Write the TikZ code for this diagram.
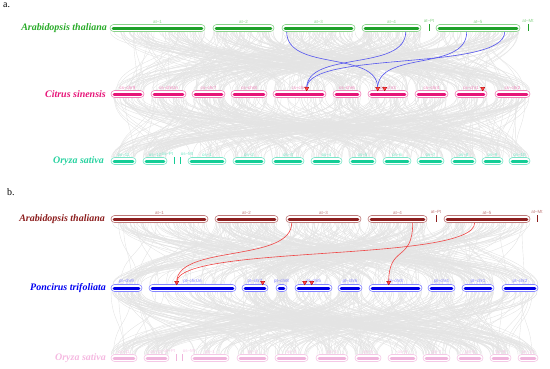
\documentclass[tikz,border=0pt]{standalone}
\usepackage{fontspec}
\setmainfont{Liberation Serif}
\newfontfamily\chrfont{Liberation Sans}
\usetikzlibrary{shapes.geometric}

\definecolor{linkgray}{RGB}{228,228,228}
\definecolor{linkblue}{RGB}{85,85,240}
\definecolor{linkred}{RGB}{240,70,70}
\definecolor{hitred}{RGB}{255,70,70}
\definecolor{hitdark}{RGB}{170,0,0}
\definecolor{aAtline}{RGB}{135,210,135}
\definecolor{aAtbar}{RGB}{30,160,40}
\definecolor{aAttext}{RGB}{40,170,40}
\definecolor{aCsline}{RGB}{240,130,185}
\definecolor{aCsbar}{RGB}{230,20,120}
\definecolor{aCstext}{RGB}{230,20,120}
\definecolor{aOsline}{RGB}{120,230,200}
\definecolor{aOsbar}{RGB}{20,205,150}
\definecolor{aOstext}{RGB}{40,210,160}
\definecolor{bAtline}{RGB}{190,120,120}
\definecolor{bAtbar}{RGB}{140,30,30}
\definecolor{bAttext}{RGB}{140,30,30}
\definecolor{bPtline}{RGB}{130,130,255}
\definecolor{bPtbar}{RGB}{0,0,230}
\definecolor{bPttext}{RGB}{0,0,240}
\definecolor{bOsline}{RGB}{245,200,230}
\definecolor{bOsbar}{RGB}{240,180,220}
\definecolor{bOstext}{RGB}{245,185,225}

% chromosome: name, x start, x end, y, label, colour prefix
\newcommand{\chrom}[6]{%
  \pgfmathsetmacro\chrw{#3-#2}%
  \node[chrbox, draw=#6line, minimum width=\chrw bp] (#1) at ({(#2+#3)/2},#4) {};
  \draw[chrbar, draw=#6bar] ([xshift=3.5bp]#1.west) -- ([xshift=-3.5bp]#1.east);
  \node[chrlbl, text=#6line] at (#1.north) {#5};
}
% organelle tick: name, x, y, label, colour prefix, label anchor
\newcommand{\chromtick}[6]{%
  \node[inner sep=0, minimum width=1bp, minimum height=6bp] (#1) at (#2,{#3-0.5}) {};
  \draw[draw=#5bar, line width=0.9bp] (#1.north) -- (#1.south);
  \node[chrlbl, text=#5line, anchor=#6] at ([yshift=0.5bp]#1.north) {#4};
}
% background links: count, top starts, top lengths, top max, top y, bottom starts, bottom lengths, bottom max, bottom y
\newcommand{\bglinks}[9]{%
  \foreach \k in {1,...,#1} {
    \pgfmathrandominteger{\ia}{0}{#4}
    \pgfmathrandominteger{\ib}{0}{#8}
    \pgfmathsetmacro\xa{#2[\ia]+rnd*#3[\ia]}
    \pgfmathsetmacro\xb{#6[\ib]+rnd*#7[\ib]}
    \draw[bglink] (\xa,#5) .. controls (\xa,{(#5+#9)/2}) and (\xb,{(#5+#9)/2}) .. (\xb,#9);
  }
}

\def\aAtS{{110,213,282,362,436}}      \def\aAtL{{95,61,73,59,84}}
\def\aCsS{{111,151,192,231,273,333,368,415,455,495}} \def\aCsL{{33,35,33,36,53,28,40,33,32,35}}
\def\aOsS{{111,143,188,233,272,311,349,383,417,451,482,509}} \def\aOsL{{25,24,38,32,32,31,27,28,27,25,21,21}}
\def\bAtS{{111,215,286,368,444}}      \def\bAtL{{97,63,75,59,86}}
\def\bPtS{{111,149,242,276,295,338,369,428,462,502}} \def\bPtL{{31,87,26,11,37,24,53,27,32,36}}
\def\bOsS{{111,144,191,237,275,316,355,388,423,457,490,518}} \def\bOsL{{26,25,38,31,33,32,26,29,27,26,21,20}}

\begin{document}
\begin{tikzpicture}[
  x=1bp, y=-1bp,
  chrbox/.style={rectangle, rounded corners=3.5bp, fill=white, line width=0.6bp,
                 minimum height=7bp, inner sep=0},
  chrbar/.style={line width=3bp, line cap=round},
  chrlbl/.style={anchor=south, inner sep=0.6bp, font=\chrfont\fontsize{4.5}{5}\selectfont},
  species/.style={anchor=east, inner sep=0, font=\bfseries\itshape\fontsize{10}{12}\selectfont},
  panel/.style={anchor=north west, inner sep=0, font=\fontsize{10}{12}\selectfont},
  bglink/.style={draw=linkgray, line width=0.4bp},
  bluelink/.style={draw=linkblue, line width=0.6bp},
  redlink/.style={draw=linkred, line width=0.6bp},
  hitmark/.style={regular polygon, regular polygon sides=3, shape border rotate=180,
                  minimum size=5bp, inner sep=0, fill=hitred, draw=hitdark,
                  line width=0.3bp, anchor=corner 1}
]
\useasboundingbox (0,0) rectangle (550,368);
\pgfmathsetseed{42}

\bglinks{380}{\aAtS}{\aAtL}{4}{31.5}{\aCsS}{\aCsL}{9}{90.5}
\bglinks{380}{\aCsS}{\aCsL}{9}{97.5}{\aOsS}{\aOsL}{11}{157.5}
\bglinks{380}{\bAtS}{\bAtL}{4}{222.5}{\bPtS}{\bPtL}{9}{284.5}
\bglinks{380}{\bPtS}{\bPtL}{9}{291.5}{\bOsS}{\bOsL}{11}{354.5}

% panel a
\node[panel] (pa) at (3,3) {a.};
\node[species, text=aAttext] (aAtName) at (107,28) {Arabidopsis thaliana};
\node[species, text=aCstext] (aCsName) at (106,94) {Citrus sinensis};
\node[species, text=aOstext] (aOsName) at (104,161) {Oryza sativa};

\chrom{aat1}{110}{205}{28}{at–1}{aAt}
\chrom{aat2}{213}{274}{28}{at–2}{aAt}
\chrom{aat3}{282}{355}{28}{at–3}{aAt}
\chrom{aat4}{362}{421}{28}{at–4}{aAt}
\chromtick{aatPt}{429}{28}{at–Pt}{aAt}{south}
\chrom{aat5}{436}{520}{28}{at–5}{aAt}
\chromtick{aatMt}{528}{28}{at–Mt}{aAt}{south}

\chrom{acs9}{111}{144}{94}{cs–chr9}{aCs}
\chrom{acsUn}{151}{186}{94}{cs–chrUn}{aCs}
\chrom{acs7}{192}{225}{94}{cs–chr7}{aCs}
\chrom{acs8}{231}{267}{94}{cs–chr8}{aCs}
\chrom{acs5}{273}{326}{94}{cs–chr5}{aCs}
\chrom{acs6}{333}{361}{94}{cs–chr6}{aCs}
\chrom{acs3}{368}{408}{94}{cs–chr3}{aCs}
\chrom{acs4}{415}{448}{94}{cs–chr4}{aCs}
\chrom{acs1}{455}{487}{94}{cs–chr1}{aCs}
\chrom{acs2}{495}{530}{94}{cs–chr2}{aCs}

\chrom{aos11}{111}{136}{161}{os–11}{aOs}
\chrom{aos12}{143}{167}{161}{os–12}{aOs}
\chromtick{aosPt}{174}{161}{os–Pt}{aOs}{south east}
\chromtick{aosMt}{180}{161}{os–Mt}{aOs}{south west}
\chrom{aos1}{188}{226}{161}{os–1}{aOs}
\chrom{aos2}{233}{265}{161}{os–2}{aOs}
\chrom{aos3}{272}{304}{161}{os–3}{aOs}
\chrom{aos4}{311}{342}{161}{os–4}{aOs}
\chrom{aos5}{349}{376}{161}{os–5}{aOs}
\chrom{aos6}{383}{411}{161}{os–6}{aOs}
\chrom{aos7}{417}{444}{161}{os–7}{aOs}
\chrom{aos8}{451}{476}{161}{os–8}{aOs}
\chrom{aos9}{482}{503}{161}{os–9}{aOs}
\chrom{aos10}{509}{530}{161}{os–10}{aOs}

\coordinate (acs5h) at ([xshift=34bp, yshift=-1bp]acs5.north west);
\coordinate (acs3h) at ([xshift=10bp, yshift=-1bp]acs3.north west);
\coordinate (acs3k) at ([xshift=17bp, yshift=-1bp]acs3.north west);
\coordinate (acs1h) at ([xshift=28bp, yshift=-1bp]acs1.north west);

\draw[bluelink] ([xshift=5bp]aat3.south west) .. controls +(0,40) and +(0,-38) .. ([yshift=3bp]acs3h);
\draw[bluelink] ([xshift=44bp]aat4.south west) .. controls +(0,40) and +(0,-38) .. ([yshift=3bp]acs5h);
\draw[bluelink] ([xshift=31bp]aat5.south west) .. controls +(0,40) and +(0,-38) .. ([yshift=3bp]acs3h);
\draw[bluelink] ([xshift=69bp]aat5.south west) .. controls +(0,40) and +(0,-38) .. ([yshift=3bp]acs5h);

\node[hitmark] (acs5m) at (acs5h) {};
\node[hitmark] (acs3m) at (acs3h) {};
\node[hitmark] (acs3n) at (acs3k) {};
\node[hitmark] (acs1m) at (acs1h) {};

% panel b
\node[panel] (pb) at (7,188) {b.};
\node[species, text=bAttext] (bAtName) at (105,219) {Arabidopsis thaliana};
\node[species, text=bPttext] (bPtName) at (106,288) {Poncirus trifoliata};
\node[species, text=bOstext] (bOsName) at (106,358) {Oryza sativa};

\chrom{bat1}{111}{208}{219}{at–1}{bAt}
\chrom{bat2}{215}{278}{219}{at–2}{bAt}
\chrom{bat3}{286}{361}{219}{at–3}{bAt}
\chrom{bat4}{368}{427}{219}{at–4}{bAt}
\chromtick{batPt}{436}{219}{at–Pt}{bAt}{south}
\chrom{bat5}{444}{530}{219}{at–5}{bAt}
\chromtick{batMt}{537}{219}{at–Mt}{bAt}{south}

\chrom{bpt9}{111}{142}{288}{pt–chr9}{bPt}
\chrom{bptUn}{149}{236}{288}{pt–chrUn}{bPt}
\chrom{bpt7}{242}{268}{288}{pt–chr7}{bPt}
\chrom{bpt8}{276}{287}{288}{pt–chr8}{bPt}
\chrom{bpt5}{295}{332}{288}{pt–chr5}{bPt}
\chrom{bpt6}{338}{362}{288}{pt–chr6}{bPt}
\chrom{bpt3}{369}{422}{288}{pt–chr3}{bPt}
\chrom{bpt4}{428}{455}{288}{pt–chr4}{bPt}
\chrom{bpt1}{462}{494}{288}{pt–chr1}{bPt}
\chrom{bpt2}{502}{538}{288}{pt–chr2}{bPt}

\chrom{bos11}{111}{137}{358}{os–11}{bOs}
\chrom{bos12}{144}{169}{358}{os–12}{bOs}
\chromtick{bosPt}{176}{358}{os–Pt}{bOs}{south east}
\chromtick{bosMt}{182}{358}{os–Mt}{bOs}{south west}
\chrom{bos1}{191}{229}{358}{os–1}{bOs}
\chrom{bos2}{237}{268}{358}{os–2}{bOs}
\chrom{bos3}{275}{308}{358}{os–3}{bOs}
\chrom{bos4}{316}{348}{358}{os–4}{bOs}
\chrom{bos5}{355}{381}{358}{os–5}{bOs}
\chrom{bos6}{388}{417}{358}{os–6}{bOs}
\chrom{bos7}{423}{450}{358}{os–7}{bOs}
\chrom{bos8}{457}{483}{358}{os–8}{bOs}
\chrom{bos9}{490}{511}{358}{os–9}{bOs}
\chrom{bos10}{518}{538}{358}{os–10}{bOs}

\coordinate (bptUnh) at ([xshift=28bp, yshift=-1bp]bptUn.north west);
\coordinate (bpt7h) at ([xshift=21bp, yshift=-1bp]bpt7.north west);
\coordinate (bpt5h) at ([xshift=10bp, yshift=-1bp]bpt5.north west);
\coordinate (bpt5k) at ([xshift=17bp, yshift=-1bp]bpt5.north west);
\coordinate (bpt3h) at ([xshift=20bp, yshift=-1bp]bpt3.north west);

\draw[redlink] ([xshift=6bp]bat3.south west) .. controls +(0,40) and +(0,-38) .. ([yshift=3bp]bptUnh);
\draw[redlink] ([xshift=45bp]bat4.south west) .. controls +(0,40) and +(0,-38) .. ([yshift=3bp]bpt3h);
\draw[redlink] ([xshift=31bp]bat5.south west) .. controls +(0,40) and +(0,-38) .. ([yshift=3bp]bptUnh);

\node[hitmark] (bptUnm) at (bptUnh) {};
\node[hitmark] (bpt7m) at (bpt7h) {};
\node[hitmark] (bpt5m) at (bpt5h) {};
\node[hitmark] (bpt5n) at (bpt5k) {};
\node[hitmark] (bpt3m) at (bpt3h) {};
\end{tikzpicture}
\end{document}
